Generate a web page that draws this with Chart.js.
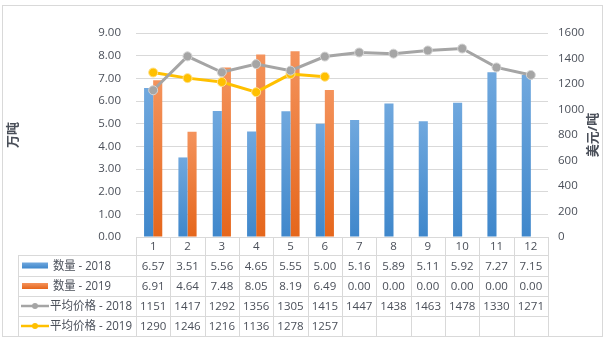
<!DOCTYPE html>
<html>
<head>
<meta charset="utf-8">
<script src="https://cdn.jsdelivr.net/npm/chart.js@4"></script>
<style>
  html, body { margin: 0; padding: 0; background: #fff; }
  #wrap { width: 606px; height: 341px; position: relative; }
</style>
</head>
<body>
<div id="wrap"><canvas id="c" width="606" height="341"></canvas></div>
<script>
const months = ["1", "2", "3", "4", "5", "6", "7", "8", "9", "10", "11", "12"];
const qty2018 = [6.57, 3.51, 5.56, 4.65, 5.55, 5.00, 5.16, 5.89, 5.11, 5.92, 7.27, 7.15];
const qty2019 = [6.91, 4.64, 7.48, 8.05, 8.19, 6.49, 0.00, 0.00, 0.00, 0.00, 0.00, 0.00];
const price2018 = [1151, 1417, 1292, 1356, 1305, 1415, 1447, 1438, 1463, 1478, 1330, 1271];
const price2019 = [1290, 1246, 1216, 1136, 1278, 1257, null, null, null, null, null, null];
const seriesNames = ["数量 - 2018", "数量 - 2019", "平均价格 - 2018", "平均价格 - 2019"];

const FONT = '"Open Sans", "Noto Sans CJK SC", sans-serif';
const TXT = "#4a4f59";
const LINE = "#d9d9d9";

function barGradient(top, bottom) {
  return ctx => {
    const chart = ctx.chart;
    if (!chart.chartArea || ctx.raw == null) return bottom;
    const y = chart.scales.y.getPixelForValue(ctx.raw);
    const base = chart.scales.y.getPixelForValue(0);
    if (base - y < 1) return bottom;
    const g = chart.ctx.createLinearGradient(0, y, 0, base);
    g.addColorStop(0, top);
    g.addColorStop(1, bottom);
    return g;
  };
}

const tablePlugin = {
  id: "dataTable",
  afterDraw(chart) {
    const ctx = chart.ctx;
    const area = chart.chartArea;
    const x = chart.scales.x;
    const colW = (area.right - area.left) / months.length;
    const rows = [237, 255, 276, 296, 316, 336];
    const labelLeft = 18;

    ctx.save();
    ctx.strokeStyle = LINE;
    ctx.lineWidth = 1;
    ctx.beginPath();
    // horizontal lines
    ctx.moveTo(area.left, rows[0] + 0.5);
    ctx.lineTo(area.right, rows[0] + 0.5);
    for (let r = 1; r < rows.length; r++) {
      ctx.moveTo(labelLeft, rows[r] + 0.5);
      ctx.lineTo(area.right, rows[r] + 0.5);
    }
    // vertical lines
    for (let i = 0; i <= months.length; i++) {
      const px = Math.round(area.left + i * colW) + 0.5;
      ctx.moveTo(px, rows[0]);
      ctx.lineTo(px, rows[5]);
    }
    ctx.moveTo(labelLeft + 0.5, rows[1]);
    ctx.lineTo(labelLeft + 0.5, rows[5]);
    ctx.stroke();

    ctx.fillStyle = TXT;
    ctx.textAlign = "center";
    ctx.textBaseline = "middle";
    ctx.font = "11.5px " + FONT;
    const centers = rows.slice(0, 5).map((r, i) => (r + rows[i + 1]) / 2 + 1);
    months.forEach((m, i) => ctx.fillText(m, x.getPixelForValue(i), centers[0]));
    const fmt = [v => v.toFixed(2), v => v.toFixed(2), v => v == null ? "" : String(v), v => v == null ? "" : String(v)];
    [qty2018, qty2019, price2018, price2019].forEach((arr, r) => {
      arr.forEach((v, i) => ctx.fillText(fmt[r](v), x.getPixelForValue(i), centers[r + 1]));
    });

    // legend keys and names
    ctx.textAlign = "left";
    ctx.font = "12px " + FONT;
    const ds = chart.data.datasets;
    ds.forEach((d, r) => {
      const cy = centers[r + 1] - 1;
      if (d.type === "bar") {
        const g = ctx.createLinearGradient(0, cy - 3, 0, cy + 3);
        g.addColorStop(0, d.keyTop);
        g.addColorStop(1, d.borderColor);
        ctx.fillStyle = g;
        ctx.fillRect(22, cy - 3, 26, 6);
        ctx.fillStyle = TXT;
        ctx.fillText(seriesNames[r], 53, cy + 1, 58);
      } else {
        ctx.strokeStyle = d.borderColor;
        ctx.lineWidth = 2.5;
        ctx.beginPath();
        ctx.moveTo(21, cy);
        ctx.lineTo(49, cy);
        ctx.stroke();
        ctx.fillStyle = d.borderColor;
        ctx.beginPath();
        ctx.arc(35, cy, 3, 0, Math.PI * 2);
        ctx.fill();
        ctx.fillStyle = TXT;
        ctx.fillText(seriesNames[r], 50, cy + 1, 82);
      }
    });

    // axis titles
    ctx.font = "bold 13px " + FONT;
    ctx.fillStyle = TXT;
    ctx.textAlign = "center";
    ctx.save();
    ctx.translate(13, 135);
    ctx.rotate(-Math.PI / 2);
    ctx.fillText("万吨", 0, 0);
    ctx.restore();
    ctx.save();
    ctx.translate(593, 135);
    ctx.rotate(-Math.PI / 2);
    ctx.fillText("美元/吨", 0, 0);
    ctx.restore();

    // outer frame
    ctx.strokeStyle = LINE;
    ctx.lineWidth = 1;
    ctx.strokeRect(2.5, 5.5, 600, 331);
    ctx.restore();
  }
};

new Chart(document.getElementById("c"), {
  data: {
    labels: months,
    datasets: [
      { type: "bar", label: seriesNames[0], data: qty2018, yAxisID: "y", order: 2,
        backgroundColor: barGradient("#70a8de", "#3f87cb"), borderColor: "#3f87cb", keyTop: "#70a8de", borderWidth: 0,
        categoryPercentage: 0.53, barPercentage: 1.0 },
      { type: "bar", label: seriesNames[1], data: qty2019, yAxisID: "y", order: 2,
        backgroundColor: barGradient("#f4935c", "#e5661b"), borderColor: "#e5661b", keyTop: "#f4935c", borderWidth: 0,
        categoryPercentage: 0.53, barPercentage: 1.0 },
      { type: "line", label: seriesNames[2], data: price2018, yAxisID: "y1", order: 1,
        borderColor: "#a5a5a5", backgroundColor: "#a5a5a5", borderWidth: 3,
        pointRadius: 4.5, pointBorderColor: "#d4d4d4", pointBorderWidth: 1, pointBackgroundColor: "#a5a5a5" },
      { type: "line", label: seriesNames[3], data: price2019, yAxisID: "y1", order: 1,
        borderColor: "#ffc000", backgroundColor: "#ffc000", borderWidth: 3,
        pointRadius: 4.5, pointBorderColor: "#ffe08a", pointBorderWidth: 1, pointBackgroundColor: "#ffc000" }
    ]
  },
  options: {
    responsive: false,
    animation: false,
    events: [],
    layout: { padding: { top: 33, bottom: 104, left: 0, right: 0 } },
    plugins: { legend: { display: false }, tooltip: { enabled: false } },
    scales: {
      x: { display: false, offset: true },
      y: {
        position: "left", min: 0, max: 9,
        ticks: { stepSize: 1, color: TXT, font: { family: FONT, size: 11.5 }, padding: 15, callback: v => v.toFixed(2) },
        grid: { color: LINE, drawTicks: false },
        border: { display: false },
        afterFit: s => { s.width = 136; }
      },
      y1: {
        position: "right", min: 0, max: 1600,
        ticks: { stepSize: 200, color: TXT, font: { family: FONT, size: 11.5 }, padding: 10, callback: v => String(v) },
        grid: { display: false, drawTicks: false },
        border: { display: false },
        afterFit: s => { s.width = 58; }
      }
    }
  },
  plugins: [tablePlugin]
});
</script>
</body>
</html>
